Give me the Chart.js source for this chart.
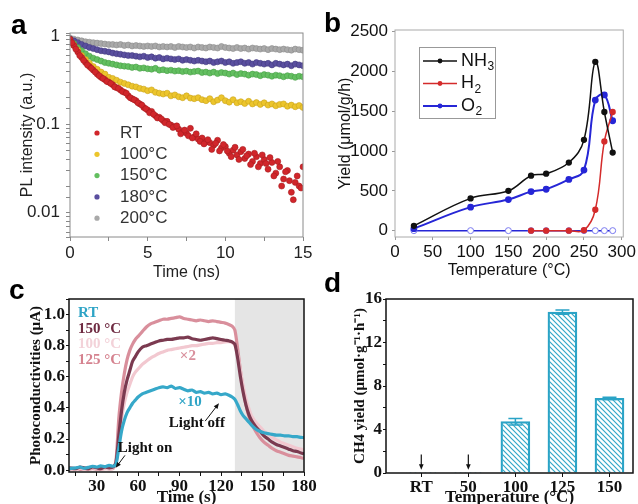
<!DOCTYPE html>
<html>
<head>
<meta charset="utf-8">
<script src="https://cdn.jsdelivr.net/npm/chart.js@4.4.1/dist/chart.umd.min.js"></script>
<style>
body { margin: 0; background: #fff; width: 638px; height: 504px; overflow: hidden; position: relative; }
canvas { position: absolute; }
.lbl { position: absolute; font: bold 28px 'Liberation Sans', Arial, sans-serif; color: #000; line-height: 1; }
</style>
</head>
<body>
<canvas id="pa" width="320" height="290" style="left:0;top:0"></canvas>
<canvas id="pb" width="320" height="290" style="left:318px;top:0"></canvas>
<canvas id="pc" width="320" height="232" style="left:0;top:280px"></canvas>
<canvas id="pd" width="320" height="232" style="left:318px;top:280px"></canvas>
<div class="lbl" style="left:11px;top:11px">a</div>
<div class="lbl" style="left:324px;top:9px">b</div>
<div class="lbl" style="left:9px;top:276px">c</div>
<div class="lbl" style="left:324px;top:269px">d</div>
<script>
// ---- panel a: PL decay (time in ns) ----
const tA = [0,0.25,0.5,0.75,1,1.25,1.5,1.75,2,2.25,2.5,2.75,3,3.25,3.5,3.75,4,4.25,4.5,4.75,
  5,5.25,5.5,5.75,6,6.25,6.5,6.75,7,7.25,7.5,7.75,8,8.25,8.5,8.75,9,9.25,9.5,9.75,
  10,10.25,10.5,10.75,11,11.25,11.5,11.75,12,12.25,12.5,12.75,13,13.25,13.5,13.75,14,14.25,14.5,14.75,15];
const tA2 = [0.125,0.375,0.625,0.875,1.125,1.375,1.625,1.875,2.125,2.375,
  2.625,2.875,3.125,3.375,3.625,3.875,4.125,4.375,4.625,4.875,
  5.125,5.375,5.625,5.875,6.125,6.375,6.625,6.875,7.125,7.375,
  7.625,7.875,8.125,8.375,8.625,8.875,9.125,9.375,9.625,9.875,
  10.125,10.375,10.625,10.875,11.125,11.375,11.625,11.875,12.125,12.375,
  12.625,12.875,13.125,13.375,13.625,13.875,14.125,14.375,14.625,14.875];
const plRT = [0.92,0.78,0.66,0.57,0.50,0.45,0.41,0.37,0.34,0.32,
  0.30,0.28,0.26,0.245,0.23,0.21,0.195,0.185,0.17,0.155,
  0.145,0.14,0.125,0.12,0.11,0.108,0.098,0.094,0.088,0.082,
  0.079,0.09,0.072,0.068,0.07,0.063,0.062,0.058,0.066,0.054,
  0.056,0.047,0.051,0.045,0.049,0.041,0.046,0.038,0.043,0.036,
  0.04,0.031,0.037,0.028,0.033,0.024,0.03,0.017,0.022,0.02,0.033];
const plRT2 = [0.84,0.71,0.6,0.53,0.47,0.43,0.39,0.355,0.33,0.305,
  0.29,0.265,0.255,0.235,0.225,0.2,0.19,0.175,0.165,0.15,
  0.135,0.13,0.118,0.115,0.104,0.1,0.092,0.096,0.078,0.086,
  0.074,0.07,0.078,0.064,0.06,0.067,0.052,0.061,0.05,0.059,
  0.05,0.043,0.055,0.04,0.052,0.044,0.035,0.047,0.033,0.045,
  0.036,0.042,0.026,0.038,0.02,0.029,0.023,0.014,0.026,0.019];
const pl100 = [0.88,0.78,0.69,0.6,0.54,0.49,0.45,0.42,0.39,0.37,
  0.34,0.33,0.315,0.3,0.29,0.28,0.27,0.265,0.255,0.25,
  0.24,0.245,0.23,0.225,0.22,0.225,0.21,0.215,0.205,0.2,
  0.21,0.198,0.195,0.2,0.19,0.185,0.195,0.18,0.188,0.2,
  0.185,0.178,0.19,0.175,0.18,0.172,0.182,0.17,0.176,0.168,
  0.175,0.165,0.17,0.162,0.168,0.17,0.16,0.165,0.158,0.163,0.155];
const pl150 = [0.9,0.82,0.74,0.68,0.63,0.59,0.56,0.54,0.52,0.5,
  0.49,0.48,0.47,0.46,0.455,0.45,0.44,0.445,0.43,0.435,
  0.425,0.42,0.43,0.41,0.415,0.405,0.41,0.4,0.405,0.395,
  0.4,0.39,0.395,0.4,0.385,0.39,0.38,0.39,0.375,0.385,
  0.38,0.37,0.38,0.365,0.375,0.37,0.36,0.37,0.365,0.355,
  0.365,0.36,0.35,0.36,0.355,0.345,0.355,0.35,0.34,0.35,0.345];
const pl180 = [0.92,0.88,0.84,0.8,0.77,0.74,0.72,0.7,0.68,0.67,
  0.66,0.64,0.63,0.62,0.61,0.6,0.6,0.59,0.58,0.59,
  0.57,0.58,0.56,0.57,0.55,0.56,0.55,0.54,0.55,0.53,
  0.54,0.53,0.52,0.53,0.52,0.51,0.52,0.5,0.51,0.52,
  0.5,0.51,0.49,0.5,0.51,0.49,0.5,0.48,0.5,0.49,
  0.48,0.49,0.47,0.49,0.48,0.47,0.48,0.46,0.48,0.47,0.46];
const pl200 = [0.95,0.92,0.9,0.88,0.86,0.85,0.84,0.83,0.82,0.81,
  0.8,0.8,0.79,0.8,0.78,0.79,0.77,0.78,0.77,0.76,
  0.77,0.76,0.77,0.75,0.76,0.75,0.76,0.74,0.76,0.75,
  0.74,0.75,0.73,0.75,0.74,0.73,0.75,0.74,0.73,0.76,
  0.74,0.73,0.72,0.74,0.72,0.73,0.71,0.73,0.72,0.71,
  0.72,0.7,0.72,0.71,0.7,0.71,0.7,0.69,0.71,0.7,0.69];
const namesA = ['RT', '100°C', '150°C', '180°C', '200°C'];

// ---- panel b: yields vs temperature ----
const tempB = [25, 100, 150, 180, 200, 230, 250, 265, 277, 288];
const nh3 = [60, 405, 500, 690, 715, 855, 1140, 2120, 1490, 980];
const h2 = [null, null, null, 0, 0, 0, 5, 262, 1120, 1490];
const o2 = [25, 295, 390, 490, 520, 643, 760, 1640, 1705, 1380];
const blank = [0, 0, 0, 0, 0, 0, 0, 0, 0, 0];

// ---- panel c: photocurrent (time in s) ----
const tC = [10,15,18,21,24,27,30,33,36,39,42,44,46,48,50,52,54,56,58,60,
  63,66,69,72,75,78,81,84,87,90,93,96,99,102,105,108,111,114,117,120,123,126,
  128,130,132,134,136,138,140,142,145,148,151,154,157,160,163,166,169,172,175,178,180];
const pcRT = [0.01,0.015,0.02,0.012,0.018,0.025,0.02,0.028,0.022,0.03,0.025,
  0.04,0.14,0.25,0.32,0.37,0.4,0.43,0.45,0.47,
  0.49,0.5,0.51,0.52,0.53,0.535,0.53,0.54,0.525,0.53,0.52,0.51,0.515,0.5,0.505,0.495,0.5,0.49,0.495,0.485,0.49,0.48,
  0.47,0.455,0.42,0.38,0.35,0.33,0.31,0.29,
  0.265,0.25,0.24,0.235,0.23,0.225,0.225,0.22,0.22,0.215,0.215,0.21,0.21];
const pc150 = [0.015,0.01,0.02,0.015,0.01,0.02,0.015,0.01,0.02,0.015,0.02,
  0.05,0.22,0.38,0.5,0.58,0.64,0.7,0.73,0.76,
  0.79,0.8,0.81,0.82,0.83,0.835,0.84,0.84,0.845,0.85,0.85,0.855,0.845,0.84,0.835,0.84,0.845,0.85,0.845,0.84,0.835,0.83,
  0.825,0.81,0.72,0.6,0.5,0.42,0.36,0.32,
  0.28,0.25,0.22,0.2,0.18,0.165,0.155,0.145,0.135,0.125,0.12,0.11,0.105];
const pc100 = [0.01,0.005,0.012,0.008,0.01,0.015,0.01,0.008,0.012,0.01,0.015,
  0.04,0.18,0.33,0.43,0.5,0.55,0.6,0.63,0.65,
  0.68,0.7,0.72,0.735,0.75,0.76,0.77,0.775,0.78,0.785,0.79,0.795,0.8,0.8,0.805,0.81,0.815,0.815,0.82,0.82,0.825,0.825,
  0.82,0.805,0.74,0.64,0.54,0.46,0.4,0.35,
  0.31,0.28,0.25,0.23,0.21,0.195,0.18,0.17,0.16,0.15,0.14,0.135,0.13];
const pc125 = [0.005,0.01,0.005,0.008,0.005,0.01,0.006,0.005,0.01,0.008,0.01,
  0.06,0.33,0.5,0.62,0.71,0.77,0.81,0.84,0.86,
  0.89,0.92,0.94,0.95,0.96,0.97,0.97,0.975,0.98,0.985,0.975,0.97,0.965,0.96,0.965,0.96,0.955,0.96,0.955,0.95,0.945,0.935,
  0.925,0.9,0.78,0.64,0.52,0.42,0.35,0.3,
  0.25,0.21,0.18,0.16,0.14,0.125,0.115,0.105,0.095,0.09,0.085,0.08,0.075];
const namesC = ['RT', '150 °C', '100 °C', '125 °C'];

// ---- panel d: CH4 yield ----
const tempD = ['RT', '50', '100', '125', '150'];
const ch4 = [0, 0, 4.72, 14.8, 6.87];
const ch4Err = [0, 0, 0.3, 0.2, 0.1];

const sans = "'Liberation Sans', Arial, sans-serif";
const serif = "'Liberation Serif', 'Times New Roman', serif";

Chart.register({
  id: 'frame',
  defaults: { color: '#000', width: 1 },
  afterDatasetsDraw(chart, args, opts) {
    const { ctx, chartArea: a } = chart;
    ctx.save();
    ctx.strokeStyle = opts.color;
    ctx.lineWidth = opts.width;
    ctx.strokeRect(a.left, a.top, a.right - a.left, a.bottom - a.top);
    ctx.restore();
  }
});

function arrow(ctx, x1, y1, x2, y2, head) {
  const ang = Math.atan2(y2 - y1, x2 - x1);
  ctx.beginPath();
  ctx.moveTo(x1, y1);
  ctx.lineTo(x2 - Math.cos(ang) * head * 0.8, y2 - Math.sin(ang) * head * 0.8);
  ctx.stroke();
  ctx.beginPath();
  ctx.moveTo(x2, y2);
  ctx.lineTo(x2 - head * Math.cos(ang - 0.4), y2 - head * Math.sin(ang - 0.4));
  ctx.lineTo(x2 - head * Math.cos(ang + 0.4), y2 - head * Math.sin(ang + 0.4));
  ctx.closePath();
  ctx.fill();
}

const toXY = (xs, ys) => xs.map((x, i) => ({ x: x, y: ys[i] }));
const isStep = (v, step) => Math.abs(v / step - Math.round(v / step)) < 1e-6;
// chart.js bends the step when min/max don't divide evenly, so lay ticks out ourselves
const stepTicks = step => s => {
  const out = [];
  for (let k = Math.ceil(s.min / step - 1e-9); k * step <= s.max + 1e-9; k++) {
    out.push({ value: +(k * step).toFixed(6) });
  }
  s.ticks = out;
};

// ================= a =================
const colorsA = ['#d1262b', '#ecc52c', '#63bf60', '#5a4f9f', '#a9a9a9'];
const edgesA = ['#a81c20', '#c9a21c', '#48a046', '#433a80', '#8c8c8c'];
const pointsA = [
  toXY(tA, plRT).concat(toXY(tA2, plRT2)),
  toXY(tA, pl100), toXY(tA, pl150), toXY(tA, pl180), toXY(tA, pl200)
];

new Chart(document.getElementById('pa'), {
  type: 'scatter',
  data: {
    datasets: pointsA.map((d, i) => ({
      label: namesA[i],
      data: d,
      backgroundColor: colorsA[i],
      borderColor: edgesA[i],
      borderWidth: 0.6,
      pointRadius: 3
    }))
  },
  options: {
    responsive: false,
    animation: false,
    layout: { padding: { left: 12, right: 17, top: 33, bottom: 5 } },
    plugins: {
      legend: { display: false },
      tooltip: { enabled: false },
      frame: { color: '#8a8a8a', width: 1 }
    },
    scales: {
      x: {
        type: 'linear', min: 0, max: 15,
        afterBuildTicks: stepTicks(2.5),
        afterFit: s => { s.height = 48; },
        ticks: { autoSkip: false, maxRotation: 0, padding: 2, color: '#222',
          font: { family: sans, size: 17 }, callback: v => (isStep(v, 5) ? v : '') },
        grid: { drawOnChartArea: false, tickLength: 4, color: '#888' },
        border: { display: false },
        title: { display: true, text: 'Time (ns)', color: '#222', font: { family: sans, size: 16 },
          padding: { top: 0, bottom: 3 } }
      },
      y: {
        type: 'logarithmic', min: 0.0053, max: 1.08,
        afterFit: s => { s.width = 58; },
        ticks: { autoSkip: false, padding: 6, color: '#222', font: { family: sans, size: 17 },
          callback: v => {
            const l = Math.log10(v);
            return Math.abs(l - Math.round(l)) < 1e-6 ? String(Math.pow(10, Math.round(l))) : '';
          } },
        grid: { drawOnChartArea: false, tickLength: 4, color: '#888' },
        border: { display: false },
        title: { display: true, text: 'PL intensity (a.u.)', color: '#222', font: { family: sans, size: 16 },
          padding: { top: 6, bottom: 0 } }
      }
    }
  },
  plugins: [{
    id: 'legendA',
    afterDatasetsDraw(chart) {
      const { ctx, chartArea: a } = chart;
      ctx.save();
      ctx.font = '17px ' + sans;
      ctx.textBaseline = 'middle';
      namesA.forEach((n, i) => {
        const y = a.top + 100 + i * 21.3;
        ctx.fillStyle = colorsA[i];
        ctx.beginPath();
        ctx.arc(a.left + 27, y, 2.6, 0, Math.PI * 2);
        ctx.fill();
        ctx.fillStyle = '#333';
        ctx.fillText(n, a.left + 50, y);
      });
      ctx.restore();
    }
  }]
});

// ================= b =================
const colorsB = ['#111111', '#d42b2b', '#2626d6'];
const namesB = [['NH', '3'], ['H', '2'], ['O', '2']];

new Chart(document.getElementById('pb'), {
  type: 'line',
  data: {
    datasets: [
      { label: 'NH3', data: toXY(tempB, nh3), borderColor: colorsB[0], backgroundColor: colorsB[0],
        borderWidth: 1.5, pointRadius: 2.4, tension: 0.4 },
      { label: 'H2', data: toXY(tempB, h2), borderColor: colorsB[1], backgroundColor: colorsB[1],
        borderWidth: 1.5, pointRadius: 2.4, tension: 0.4 },
      { label: 'O2', data: toXY(tempB, o2), borderColor: colorsB[2], backgroundColor: colorsB[2],
        borderWidth: 2, pointRadius: 2.4, tension: 0.4 },
      { label: 'blank', data: toXY(tempB, blank), borderColor: '#2626d6', borderWidth: 1.5,
        pointBackgroundColor: '#fff', pointBorderColor: '#7a7af0', pointBorderWidth: 1, pointRadius: 3 }
    ]
  },
  options: {
    responsive: false,
    animation: false,
    layout: { padding: { left: 12, right: 10, top: 30, bottom: 5 } },
    plugins: {
      legend: { display: false },
      tooltip: { enabled: false },
      frame: { color: '#aaa', width: 1 }
    },
    scales: {
      x: {
        type: 'linear', min: 0, max: 302,
        afterBuildTicks: stepTicks(50),
        afterFit: s => { s.height = 48; },
        ticks: { autoSkip: false, maxRotation: 0, padding: 2, color: '#111',
          font: { family: sans, size: 17 }, callback: v => String(v) },
        grid: { drawOnChartArea: false, tickLength: 3, color: '#999' },
        border: { display: false },
        title: { display: true, text: 'Temperature (°C)', color: '#111', font: { family: sans, size: 16 },
          padding: { top: 0, bottom: 5 } }
      },
      y: {
        type: 'linear', min: -80, max: 2520,
        afterBuildTicks: stepTicks(500),
        afterFit: s => { s.width = 65; },
        ticks: { autoSkip: false, padding: 4, color: '#111', font: { family: sans, size: 17 },
          callback: v => String(v) },
        grid: { drawOnChartArea: false, tickLength: 3, color: '#999' },
        border: { display: false },
        title: { display: true, text: 'Yield (μmol/g/h)', color: '#111', font: { family: sans, size: 16 },
          padding: { top: 6, bottom: 0 } }
      }
    }
  },
  plugins: [{
    id: 'legendB',
    afterDatasetsDraw(chart) {
      const ctx = chart.ctx;
      ctx.save();
      ctx.fillStyle = '#fff';
      ctx.fillRect(101, 47, 76, 71);
      ctx.strokeStyle = '#999';
      ctx.lineWidth = 1;
      ctx.strokeRect(101.5, 47.5, 76, 71);
      ctx.textBaseline = 'middle';
      namesB.forEach((n, i) => {
        const y = 61 + i * 22.5;
        ctx.strokeStyle = colorsB[i];
        ctx.fillStyle = colorsB[i];
        ctx.lineWidth = i === 2 ? 2 : 1.5;
        ctx.beginPath();
        ctx.moveTo(105, y);
        ctx.lineTo(139, y);
        ctx.stroke();
        ctx.beginPath();
        ctx.arc(122, y, 2.4, 0, Math.PI * 2);
        ctx.fill();
        ctx.fillStyle = '#111';
        ctx.font = '18px ' + sans;
        ctx.fillText(n[0], 143, y);
        const w = ctx.measureText(n[0]).width;
        ctx.font = '12px ' + sans;
        ctx.fillText(n[1], 143 + w + 0.5, y + 6);
      });
      ctx.restore();
    }
  }]
});

// ================= c =================
const colorsC = ['#36a8c9', '#7b3a50', '#f2c8d0', '#d98f9c'];
const textColorsC = ['#2ea4c6', '#6f2b42', '#f3d2d9', '#d5828f'];
const seriesC = [pcRT, pc150, pc100, pc125];

new Chart(document.getElementById('pc'), {
  type: 'line',
  data: {
    datasets: seriesC.map((s, i) => ({
      label: namesC[i],
      data: toXY(tC, s),
      borderColor: colorsC[i],
      borderWidth: 3.2,
      pointRadius: 0,
      tension: 0.25
    }))
  },
  options: {
    responsive: false,
    animation: false,
    layout: { padding: { left: 22, right: 16, top: 19, bottom: 0 } },
    plugins: {
      legend: { display: false },
      tooltip: { enabled: false },
      frame: { color: '#111', width: 1.5 }
    },
    scales: {
      x: {
        type: 'linear', min: 10, max: 180,
        afterBuildTicks: stepTicks(15),
        afterFit: s => { s.height = 40; },
        ticks: { autoSkip: false, maxRotation: 0, padding: 0, color: '#111',
          font: { family: serif, size: 17, weight: 'bold' }, callback: v => (isStep(v, 30) ? v : '') },
        grid: { drawOnChartArea: false, tickLength: 4, color: '#111' },
        border: { display: false },
        title: { display: true, text: 'Time (s)', color: '#111', font: { family: serif, size: 17, weight: 'bold' },
          padding: { top: 0, bottom: 4 } }
      },
      y: {
        type: 'linear', min: -0.012, max: 1.1,
        afterBuildTicks: stepTicks(0.1),
        afterFit: s => { s.width = 47; },
        ticks: { autoSkip: false, padding: 1, color: '#111',
          font: { family: serif, size: 17, weight: 'bold' },
          callback: v => (isStep(v, 0.2) ? v.toFixed(1) : '') },
        grid: { drawOnChartArea: false, tickLength: 3, color: '#111' },
        border: { display: false },
        title: { display: true, text: 'Photoconductivities (μA)', color: '#111',
          font: { family: serif, size: 15, weight: 'bold' }, padding: { top: 5, bottom: 0 } }
      }
    }
  },
  plugins: [{
    id: 'shadeC',
    beforeDatasetsDraw(chart) {
      const { ctx, chartArea: a, scales } = chart;
      const x0 = scales.x.getPixelForValue(130);
      ctx.save();
      ctx.fillStyle = '#e5e5e5';
      ctx.fillRect(x0, a.top, a.right - x0, a.bottom - a.top);
      ctx.restore();
    },
    afterDatasetsDraw(chart) {
      const { ctx, chartArea: a, scales: { x, y } } = chart;
      ctx.save();
      ctx.font = 'bold 15px ' + serif;
      ctx.textBaseline = 'middle';
      namesC.forEach((n, i) => {
        ctx.fillStyle = textColorsC[i];
        ctx.fillText(n, a.left + 9, a.top + 14 + i * 15.7);
      });
      ctx.textAlign = 'center';
      ctx.fillStyle = '#d9909d';
      ctx.fillText('×2', x.getPixelForValue(96), y.getPixelForValue(0.73));
      ctx.fillStyle = '#2ea4c6';
      ctx.fillText('×10', x.getPixelForValue(97.5), y.getPixelForValue(0.44));
      ctx.fillStyle = '#111';
      ctx.fillText('Light off', x.getPixelForValue(102.5), y.getPixelForValue(0.30));
      ctx.fillText('Light on', x.getPixelForValue(65), y.getPixelForValue(0.14));
      ctx.strokeStyle = '#111';
      ctx.lineWidth = 1;
      arrow(ctx, x.getPixelForValue(108.5), y.getPixelForValue(0.315),
        x.getPixelForValue(118.5), y.getPixelForValue(0.43), 6);
      arrow(ctx, x.getPixelForValue(50.5), y.getPixelForValue(0.095),
        x.getPixelForValue(43.8), y.getPixelForValue(0.015), 6);
      ctx.restore();
    }
  }]
});

// ================= d =================
const hatchCanvas = document.createElement('canvas');
hatchCanvas.width = 5;
hatchCanvas.height = 5;
const hc = hatchCanvas.getContext('2d');
hc.strokeStyle = '#33a8c8';
hc.lineWidth = 1.2;
hc.beginPath();
hc.moveTo(-1, -1); hc.lineTo(6, 6);
hc.moveTo(-1, 4); hc.lineTo(1, 6);
hc.moveTo(4, -1); hc.lineTo(6, 1);
hc.stroke();
const hatch = document.getElementById('pd').getContext('2d').createPattern(hatchCanvas, 'repeat');

new Chart(document.getElementById('pd'), {
  type: 'bar',
  data: {
    datasets: [{
      label: 'CH4',
      data: toXY(tempD.map((c, i) => i + 1), ch4),
      backgroundColor: hatch,
      borderColor: '#2aa3c6',
      borderWidth: c => (c.raw && c.raw.y > 0 ? 1.6 : 0),
      barThickness: 29
    }]
  },
  options: {
    responsive: false,
    animation: false,
    layout: { padding: { left: 24, right: 5, top: 19, bottom: 0 } },
    plugins: {
      legend: { display: false },
      tooltip: { enabled: false },
      frame: { color: '#111', width: 1.5 }
    },
    scales: {
      x: {
        type: 'linear', min: 0.25, max: 5.5, offset: false,
        afterBuildTicks: s => { s.ticks = tempD.map((c, i) => ({ value: i + 1 })); },
        afterFit: s => { s.height = 39; },
        ticks: { autoSkip: false, maxRotation: 0, padding: 0, color: '#111',
          font: { family: serif, size: 17, weight: 'bold' }, callback: v => tempD[Math.round(v) - 1] },
        grid: { drawOnChartArea: false, offset: false, tickLength: 4, color: '#111' },
        border: { display: false },
        title: { display: true, text: 'Temperature (°C)', color: '#111', font: { family: serif, size: 17, weight: 'bold' },
          padding: { top: 0, bottom: 4 } }
      },
      y: {
        type: 'linear', min: 0, max: 16,
        afterBuildTicks: stepTicks(2),
        afterFit: s => { s.width = 44; },
        ticks: { autoSkip: false, padding: 1, color: '#111',
          font: { family: serif, size: 17, weight: 'bold' }, callback: v => (isStep(v, 4) ? v : '') },
        grid: { drawOnChartArea: false, tickLength: 3, color: '#111' },
        border: { display: false },
        title: { display: true, text: 'CH4 yield (μmol·g⁻¹·h⁻¹)', color: '#111',
          font: { family: serif, size: 15, weight: 'bold' }, padding: { top: 9, bottom: 0 } }
      }
    }
  },
  plugins: [{
    id: 'errD',
    afterDatasetsDraw(chart) {
      const { ctx, scales: { x, y } } = chart;
      ctx.save();
      ctx.strokeStyle = '#2aa3c6';
      ctx.lineWidth = 1.5;
      ch4Err.forEach((e, i) => {
        if (!e) return;
        const px = x.getPixelForValue(i + 1);
        const yt = y.getPixelForValue(ch4[i] + e);
        const yb = y.getPixelForValue(ch4[i] - e);
        ctx.beginPath();
        ctx.moveTo(px, yt); ctx.lineTo(px, yb);
        ctx.moveTo(px - 7, yt); ctx.lineTo(px + 7, yt);
        ctx.moveTo(px - 7, yb); ctx.lineTo(px + 7, yb);
        ctx.stroke();
      });
      ctx.strokeStyle = '#111';
      ctx.fillStyle = '#111';
      ctx.lineWidth = 1.2;
      ch4.forEach((v, i) => {
        if (v > 0) return;
        const px = x.getPixelForValue(i + 1);
        arrow(ctx, px, y.getPixelForValue(1.7), px, y.getPixelForValue(0.3), 6);
      });
      ctx.restore();
    }
  }]
});
</script>
</body>
</html>
